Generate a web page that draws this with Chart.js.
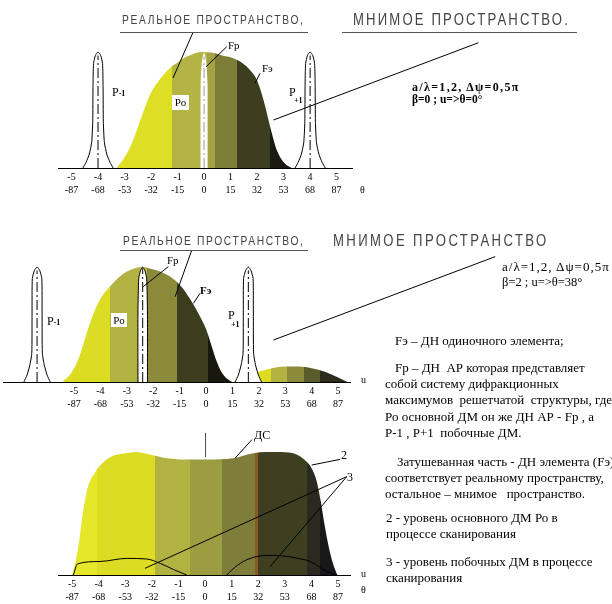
<!DOCTYPE html>
<html>
<head>
<meta charset="utf-8">
<script src="https://cdn.jsdelivr.net/npm/chart.js@4.4.1/dist/chart.umd.min.js"></script>
<style>
  body { margin: 0; background: #fff; }
  #wrap { position: relative; width: 612px; height: 604px; overflow: hidden; font-family: "Liberation Serif", serif; color: #000; }
  canvas { position: absolute; left: 0; }
  .t { position: absolute; white-space: pre; font-size: 12px; line-height: 14px; }
  .txt { font-size: 13px; }
  .hdr { font-family: "Liberation Sans", sans-serif; color: #444; transform-origin: left center; transform: scaleX(0.82); }
  .ul { position: absolute; height: 0; border-top: 1px solid #555; }
  .box { background: #fff; text-align: center; }
  .sub { font-size: 8px; font-weight: bold; }
  .b { font-weight: bold; }
</style>
</head>
<body>
<div id="wrap">
  <canvas id="c1" width="612" height="205" style="top:0"></canvas>
  <canvas id="c2" width="612" height="215" style="top:205px"></canvas>
  <canvas id="c3" width="612" height="184" style="top:420px"></canvas>

  <!-- верхняя диаграмма -->
  <div class="t hdr" data-w="183" style="left:122px;top:13px;font-size:12.5px">РЕАЛЬНОЕ ПРОСТРАНСТВО,</div>
  <div class="ul" style="left:120px;top:32px;width:188px"></div>
  <div class="t hdr" data-w="217" style="left:353px;top:11px;font-size:16px;line-height:18px">МНИМОЕ ПРОСТРАНСТВО.</div>
  <div class="ul" style="left:342px;top:32px;width:235px"></div>
  <div class="t" style="left:228px;top:38px;font-size:11px">Fр</div>
  <div class="t" style="left:262px;top:61px;font-size:11px">Fэ</div>
  <div class="t" style="left:112px;top:85px">P<span class="sub">-1</span></div>
  <div class="t" style="left:289px;top:85px">P</div>
  <div class="t sub" style="left:294px;top:94px">+1</div>
  <div class="t box" style="left:172px;top:95px;width:17px;height:15px;line-height:15px;font-size:11px">Po</div>
  <div class="t b" data-w="108" style="left:412px;top:80px;font-size:12px">a/λ=1,2, Δψ=0,5π</div>
  <div class="t b" style="left:412px;top:92px;font-size:11.5px">β=0 ; u=&gt;θ=0°</div>
  <div class="t" style="left:360px;top:183px;font-size:10px">θ</div>

  <!-- средняя диаграмма -->
  <div class="t hdr" data-w="182" style="left:123px;top:234px;font-size:12.5px">РЕАЛЬНОЕ ПРОСТРАНСТВО,</div>
  <div class="ul" style="left:120px;top:250px;width:188px"></div>
  <div class="t hdr" data-w="216" style="left:333px;top:232px;font-size:16px;line-height:18px">МНИМОЕ ПРОСТРАНСТВО</div>
  <div class="t" style="left:167px;top:253px;font-size:11px">Fр</div>
  <div class="t b" style="left:200px;top:283px;font-size:11px">Fэ</div>
  <div class="t" style="left:47px;top:314px">P<span class="sub">-1</span></div>
  <div class="t" style="left:228px;top:308px">P</div>
  <div class="t sub" style="left:231px;top:318px">+1</div>
  <div class="t box" style="left:111px;top:313px;width:16px;height:14px;line-height:14px;font-size:11px">Po</div>
  <div class="t" data-w="108" style="left:502px;top:260px;font-size:13px">a/λ=1,2, Δψ=0,5π</div>
  <div class="t" style="left:502px;top:275px;font-size:12.5px">β=2 ; u=&gt;θ=38°</div>
  <div class="t" style="left:361px;top:373px;font-size:10px">u</div>

  <!-- пояснения -->
  <div class="t txt" style="left:395px;top:334px">Fэ – ДН одиночного элемента;</div>
  <div class="t txt" style="left:395px;top:361px">Fр – ДН  АР которая представляет</div>
  <div class="t txt" style="left:385px;top:377px">собой систему дифракционных</div>
  <div class="t txt" style="left:385px;top:393px">максимумов  решетчатой  структуры, где</div>
  <div class="t txt" style="left:385px;top:410px">Ро основной ДМ он же ДН АР - Fр , а</div>
  <div class="t txt" style="left:385px;top:426px">Р-1 , Р+1  побочные ДМ.</div>
  <div class="t txt" style="left:397px;top:455px">Затушеванная часть - ДН элемента (Fэ)</div>
  <div class="t txt" style="left:385px;top:471px">соответствует реальному пространству,</div>
  <div class="t txt" style="left:385px;top:487px">остальное – мнимое   пространство.</div>
  <div class="t txt" style="left:386px;top:511px">2 - уровень основного ДМ Ро в</div>
  <div class="t txt" style="left:386px;top:527px">процессе сканирования</div>
  <div class="t txt" style="left:386px;top:555px">3 - уровень побочных ДМ в процессе</div>
  <div class="t txt" style="left:386px;top:571px">сканирования</div>

  <!-- нижняя диаграмма -->
  <div class="t" style="left:254px;top:428px">ДС</div>
  <div class="t" style="left:341px;top:448px">2</div>
  <div class="t" style="left:347px;top:470px">3</div>
  <div class="t" style="left:361px;top:567px;font-size:10px">u</div>
  <div class="t" style="left:361px;top:583px;font-size:10px">θ</div>
</div>

<script>
// обобщённая координата u и соответствующие углы θ
const uTicks = [-5, -4, -3, -2, -1, 0, 1, 2, 3, 4, 5];
const thetaTicks = ['-87', '-68', '-53', '-32', '-15', '0', '15', '32', '53', '68', '87'];

// β = 0 : ДН элемента Fэ
const elem1U = [-3.3, -3.0, -2.75, -2.5, -2.25, -2.0, -1.75, -1.5, -1.25, -1.0, -0.75, -0.5, -0.25, 0, 0.25, 0.5, 0.75, 1.0, 1.25, 1.5, 1.75, 2.0, 2.25, 2.5, 2.75, 3.0, 3.3];
const elem1L = [0, 0.09, 0.2, 0.35, 0.51, 0.65, 0.74, 0.81, 0.87, 0.91, 0.95, 0.975, 0.995, 1.0, 0.995, 0.985, 0.965, 0.955, 0.93, 0.895, 0.84, 0.755, 0.58, 0.35, 0.15, 0.05, 0];
// дифракционные максимумы P-1, Po, P+1
const pm1U = [-4.57, -4.45, -4.33, -4.24, -4.2, -4.19, -4.17, -4.1, -4.0, -3.9, -3.83, -3.81, -3.8, -3.76, -3.67, -3.55, -3.43];
const pp1U = [3.43, 3.55, 3.67, 3.76, 3.8, 3.81, 3.83, 3.9, 4.0, 4.1, 4.17, 4.19, 4.2, 4.24, 4.33, 4.45, 4.57];
const side1L = [0, 0.05, 0.12, 0.22, 0.4, 0.7, 0.9, 0.97, 1.0, 0.97, 0.9, 0.7, 0.4, 0.22, 0.12, 0.05, 0];
const p01U = [-0.14, -0.14, -0.09, -0.04, 0, 0.04, 0.09, 0.14, 0.14];
const p01L = [0, 0.7, 0.9, 0.97, 0.995, 0.97, 0.9, 0.7, 0];
const bands1 = [[-3.4, -1.22, '#dede24'], [-1.22, 0.1, '#b4b444'], [0.1, 0.42, '#a3a344'], [0.42, 1.23, '#7d7d38'], [1.23, 2.49, '#3d3d1f'], [2.49, 3.4, '#1a1a12']];

// β = 2 : ДН элемента смещена
const elem2U = [-5.45, -5.1, -4.8, -4.5, -4.2, -3.9, -3.6, -3.3, -3.0, -2.7, -2.4, -2.1, -1.8, -1.5, -1.2, -0.9, -0.6, -0.3, 0.0, 0.2, 0.4, 0.6, 0.9];
const elem2L = [0, 0.08, 0.22, 0.44, 0.63, 0.76, 0.84, 0.91, 0.96, 0.99, 1.0, 0.985, 0.965, 0.935, 0.89, 0.82, 0.72, 0.6, 0.46, 0.32, 0.18, 0.08, 0.01];
const hump2U = [1.0, 1.5, 2.0, 2.5, 3.0, 3.5, 4.0, 4.5, 5.0, 5.35];
const hump2L = [0, 0.05, 0.09, 0.12, 0.135, 0.135, 0.12, 0.09, 0.04, 0];
const pm2U = [-6.9, -6.78, -6.67, -6.6, -6.59, -6.58, -6.5, -6.4, -6.3, -6.22, -6.21, -6.2, -6.13, -6.02, -5.9];
const pp2U = [1.1, 1.22, 1.33, 1.4, 1.41, 1.42, 1.5, 1.6, 1.7, 1.78, 1.79, 1.8, 1.87, 1.98, 2.1];
const side2L = [0, 0.06, 0.15, 0.25, 0.6, 0.9, 0.97, 1.0, 0.97, 0.9, 0.6, 0.25, 0.15, 0.06, 0];
const p02U = [-2.58, -2.58, -2.55, -2.48, -2.4, -2.32, -2.25, -2.22, -2.22];
const p02L = [0, 0.6, 0.9, 0.97, 1.0, 0.97, 0.9, 0.6, 0];
const bands2 = [[-5.5, -3.64, '#dcdc22'], [-3.64, -2.25, '#b2b242'], [-2.25, -1.11, '#8a8a3a'], [-1.11, 0.09, '#3c3c1e'], [0.09, 1.0, '#18180f'],
                [1.0, 2.45, '#dcdc22'], [2.45, 3.06, '#b2b242'], [3.06, 3.7, '#8a8a3a'], [3.7, 4.3, '#5a5a2a'], [4.3, 5.4, '#2c2c1a']];

// ДС при сканировании
const elem3U = [-5.0, -4.88, -4.75, -4.6, -4.4, -4.15, -3.9, -3.5, -3.0, -2.6, -2.07, -1.44, -0.69, 0.06, 1.06, 1.82, 2.3, 2.7, 3.32, 3.82, 4.0, 4.2, 4.35, 4.5, 4.65, 4.8, 4.97];
const elem3L = [0, 0.1, 0.25, 0.5, 0.72, 0.83, 0.9, 0.965, 0.99, 1.0, 0.98, 0.95, 0.94, 0.94, 0.95, 0.99, 1.0, 1.0, 0.99, 0.92, 0.87, 0.76, 0.6, 0.4, 0.23, 0.1, 0];
const lobeLeftU = [-4.95, -4.8, -3.95, -2.94, -2.19, -1.69, -1.19, -0.69];
const lobeLeftL = [0, 0.09, 0.11, 0.135, 0.13, 0.095, 0.045, 0];
const lobeRightU = [0.82, 1.0, 1.44, 1.94, 2.44, 2.94, 3.5, 3.95, 4.57, 4.97];
const lobeRightL = [0, 0.04, 0.11, 0.15, 0.16, 0.155, 0.135, 0.11, 0.03, 0];
const bands3 = [[-5.0, -4.07, '#e6e62a'], [-4.07, -1.88, '#dcdc22'], [-1.88, -0.56, '#b2b242'], [-0.56, 0.63, '#9c9c40'], [0.63, 1.88, '#7e7e3a'],
                [1.88, 1.99, '#8a5a22'], [1.99, 3.82, '#3e3e20'], [3.82, 4.32, '#2a2a22'], [4.32, 5.0, '#18181a']];

const xy = (us, ls) => us.map((u, i) => ({ x: u, y: ls[i] }));

// заливка полосами по u
function bandFill(bands) {
  return function (ctx) {
    const chart = ctx.chart;
    const area = chart.chartArea;
    if (!area) return bands[0][2];
    const sx = chart.scales.x;
    const w = area.right - area.left;
    const t = u => Math.min(1, Math.max(0, (sx.getPixelForValue(u) - area.left) / w));
    const g = chart.ctx.createLinearGradient(area.left, 0, area.right, 0);
    bands.forEach(([u0, u1, c]) => {
      g.addColorStop(t(u0), c);
      g.addColorStop(t(u1), c);
    });
    return g;
  };
}

const pattern = (data, bands) => ({ data, backgroundColor: bandFill(bands), borderWidth: 0, fill: 'origin', pointRadius: 0, cubicInterpolationMode: 'monotone', order: 3 });
const peak = (us, ls, edge) => ({ data: xy(us, ls), backgroundColor: '#fff', borderColor: edge || '#fff', borderWidth: edge ? 1 : 0, fill: 'origin', pointRadius: 0, tension: 0.2, clip: false, order: 2 });
const seg = (pts, dash, color) => ({ data: pts.map(([x, y]) => ({ x, y })), borderColor: color || '#000', borderWidth: 1, borderDash: dash || [], pointRadius: 0, fill: false, tension: 0, clip: false, order: 1 });
const curve = (us, ls) => ({ data: xy(us, ls), borderColor: '#000', borderWidth: 1, pointRadius: 0, fill: false, cubicInterpolationMode: 'monotone', order: 1 });
const dashDot = [10, 3, 2, 3];

function panel(id, o) {
  return new Chart(document.getElementById(id), {
    type: 'line',
    data: { datasets: o.datasets },
    options: {
      responsive: false,
      animation: false,
      events: [],
      layout: { autoPadding: false, padding: { left: o.left, right: 612 - o.right, top: o.top, bottom: 0 } },
      plugins: { legend: { display: false }, tooltip: { enabled: false } },
      scales: {
        x: {
          type: 'linear', min: o.min, max: o.max,
          grid: { display: false, drawTicks: false },
          border: { display: true, color: '#000', width: 1 },
          afterBuildTicks: s => { s.ticks = uTicks.map(v => ({ value: v })); },
          afterFit: s => { s.height = o.axisH; },
          ticks: {
            padding: 3, color: '#000', autoSkip: false, maxRotation: 0,
            font: { family: 'Liberation Serif', size: 10, lineHeight: 1.3 },
            callback: v => { const i = uTicks.indexOf(v); return i < 0 ? '' : [String(v), thetaTicks[i]]; }
          }
        },
        y: { display: false, min: 0, max: 1.2 }
      }
    }
  });
}

panel('c1', {
  left: 58, right: 352, min: -5.51, max: 5.58, top: 28.8, axisH: 37,
  datasets: [
    seg([[-0.415, 1.17], [-1.17, 0.776]]),
    seg([[0.857, 1.046], [0.075, 0.873]]),
    seg([[2.11, 0.816], [1.92, 0.73]]),
    seg([[2.62, 0.414], [10.35, 1.08]]),
    seg([[-4, 0], [-4, 0.97]], dashDot),
    seg([[4, 0], [4, 0.97]], dashDot),
    seg([[0, 0], [0, 0.96]], dashDot, '#999'),
    peak(pm1U, side1L, '#000'),
    peak(pp1U, side1L, '#000'),
    peak(p01U, p01L),
    pattern(xy(elem1U, elem1L), bands1)
  ]
});

panel('c2', {
  left: 3, right: 350, min: -7.69, max: 5.45, top: 39, axisH: 38,
  datasets: [
    seg([[-0.54, 1.148], [-1.17, 0.742]]),
    seg([[-1.43, 1.003], [-2.38, 0.829]]),
    seg([[-0.23, 0.771], [-0.48, 0.684]]),
    seg([[2.55, 0.365], [10.95, 1.09]]),
    seg([[-6.4, 0], [-6.4, 0.97]], dashDot),
    seg([[-2.4, 0], [-2.4, 0.99]], dashDot),
    seg([[1.6, 0], [1.6, 0.97]], dashDot),
    peak(pm2U, side2L, '#000'),
    peak(pp2U, side2L, '#000'),
    peak(p02U, p02L, '#000'),
    pattern(xy(elem2U, elem2L).concat(xy(hump2U, hump2L)), bands2)
  ]
});

panel('c3', {
  left: 58, right: 350, min: -5.53, max: 5.45, top: 7.4, axisH: 29,
  datasets: [
    seg([[0.017, 1.155], [0.017, 0.96]], null, '#555'),
    seg([[1.76, 1.1], [1.13, 0.95]]),
    seg([[5.08, 0.94], [4.01, 0.894]]),
    seg([[5.33, 0.8], [-2.26, 0.054]]),
    seg([[5.33, 0.8], [2.44, 0.067]]),
    curve(lobeLeftU, lobeLeftL),
    curve(lobeRightU, lobeRightL),
    pattern(xy(elem3U, elem3L), bands3)
  ]
});

// подгонка ширины строк разрядкой; заголовки к тому же сжаты по горизонтали
document.querySelectorAll('[data-w]').forEach(el => {
  const k = el.classList.contains('hdr') ? 0.82 : 1;
  const n = el.textContent.length;
  el.style.letterSpacing = ((+el.dataset.w / k - el.offsetWidth) / n) + 'px';
});
</script>
</body>
</html>
